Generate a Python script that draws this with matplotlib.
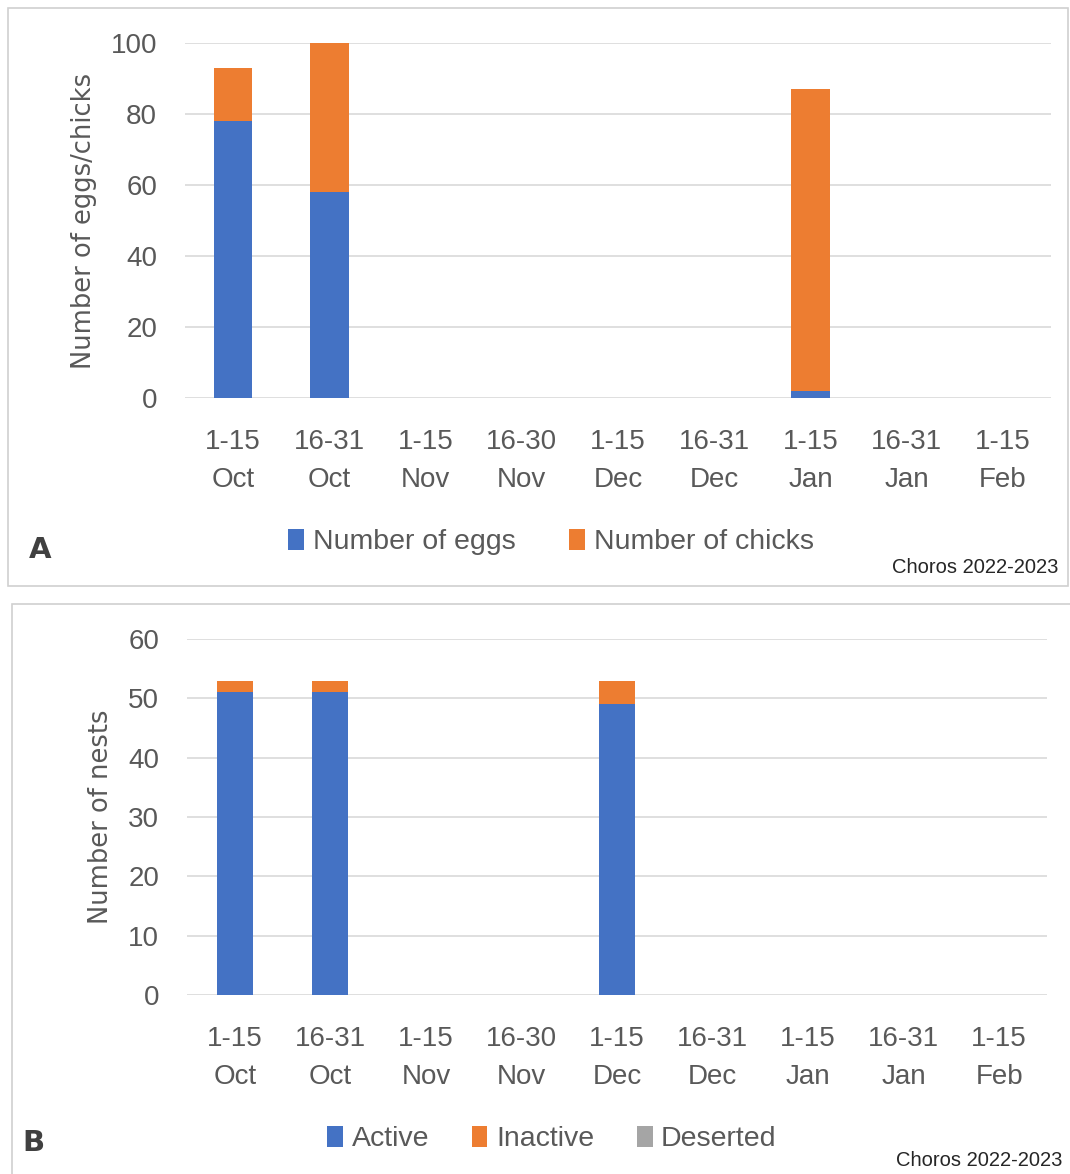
import matplotlib.pyplot as plt
import numpy as np
from matplotlib.patches import Rectangle

periods = ['1-15\nOct', '16-31\nOct', '1-15\nNov', '16-30\nNov', '1-15\nDec',
           '16-31\nDec', '1-15\nJan', '16-31\nJan', '1-15\nFeb']

# panel A
eggs = [78, 58, 0, 0, 0, 0, 2, 0, 0]
chicks = [15, 42, 0, 0, 0, 0, 85, 0, 0]

# panel B
active = [51, 51, 0, 0, 49, 0, 0, 0, 0]
inactive = [2, 2, 0, 0, 4, 0, 0, 0, 0]
deserted = [0, 0, 0, 0, 0, 0, 0, 0, 0]

blue = '#4472c4'
orange = '#ed7d31'
grey = '#a5a5a5'
txt = '#595959'

plt.rcParams['font.family'] = ['Liberation Sans', 'DejaVu Sans']

W, H = 1070, 1174
fig = plt.figure(figsize=(W / 100, H / 100), dpi=100)

# panel frames
fig.patches.append(Rectangle((8 / W, 1 - 586 / H), 1060 / W, 578 / H, transform=fig.transFigure,
                             fill=False, edgecolor='#d0d0d0', linewidth=1.2))
fig.patches.append(Rectangle((12 / W, -0.01), 1070 / W, 1 - 604 / H + 0.01, transform=fig.transFigure,
                             fill=False, edgecolor='#d0d0d0', linewidth=1.2))

axA = fig.add_axes([185 / W, 1 - 398 / H, 866 / W, 355 / H])
axB = fig.add_axes([187 / W, 1 - 995 / H, 860 / W, 356 / H])

x = np.arange(len(periods))


def style(ax, ymax, step, ylabel):
    ax.set_xlim(-0.5, len(periods) - 0.5)
    ax.set_ylim(0, ymax)
    ax.set_yticks(np.arange(0, ymax + 1, step))
    ax.set_xticks(x)
    ax.set_xticklabels(periods, linespacing=1.6)
    for s in ax.spines.values():
        s.set_visible(False)
    ax.grid(axis='y', color='#d9d9d9', linewidth=1.2)
    ax.set_axisbelow(True)
    ax.tick_params(length=0, colors=txt, labelsize=20)
    ax.tick_params(axis='x', pad=22)
    ax.tick_params(axis='y', pad=20)
    ax.set_ylabel(ylabel, fontsize=18.5, color=txt, family=['DejaVu Sans'], labelpad=10)


axA.bar(x, eggs, width=0.4, color=blue, label='Number of eggs', zorder=3)
axA.bar(x, chicks, width=0.4, bottom=eggs, color=orange, label='Number of chicks', zorder=3)
style(axA, 100, 20, 'Number of eggs/chicks')
axA.legend(loc='center', bbox_to_anchor=(551 / W, 1 - 542 / H), bbox_transform=fig.transFigure,
           ncol=2, frameon=False, fontsize=20.5, labelcolor=txt, handlelength=0.55, handleheight=0.8,
           handletextpad=0.3, columnspacing=1.9)

bot = np.array(active) + np.array(inactive)
axB.bar(x, active, width=0.38, color=blue, label='Active', zorder=3)
axB.bar(x, inactive, width=0.38, bottom=active, color=orange, label='Inactive', zorder=3)
axB.bar(x, deserted, width=0.38, bottom=bot, color=grey, label='Deserted', zorder=3)
style(axB, 60, 10, 'Number of nests')
axB.legend(loc='center', bbox_to_anchor=(552 / W, 1 - 1139 / H), bbox_transform=fig.transFigure,
           ncol=3, frameon=False, fontsize=20.5, labelcolor=txt, handlelength=0.55, handleheight=0.8,
           handletextpad=0.3, columnspacing=1.5)

fig.text(40 / W, 1 - 550 / H, 'A', fontsize=21, fontweight='bold', color='#404040',
         family=['DejaVu Sans'], ha='center', va='center')
fig.text(33 / W, 1 - 1143 / H, 'B', fontsize=21, fontweight='bold', color='#404040',
         family=['DejaVu Sans'], ha='center', va='center')
fig.text(1058 / W, 1 - 568 / H, 'Choros 2022-2023', fontsize=14.5, color='#262626',
         ha='right', va='center')
fig.text(1062 / W, 1 - 1160 / H, 'Choros 2022-2023', fontsize=14.5, color='#262626',
         ha='right', va='center')

fig.savefig('out.png', dpi=100)
